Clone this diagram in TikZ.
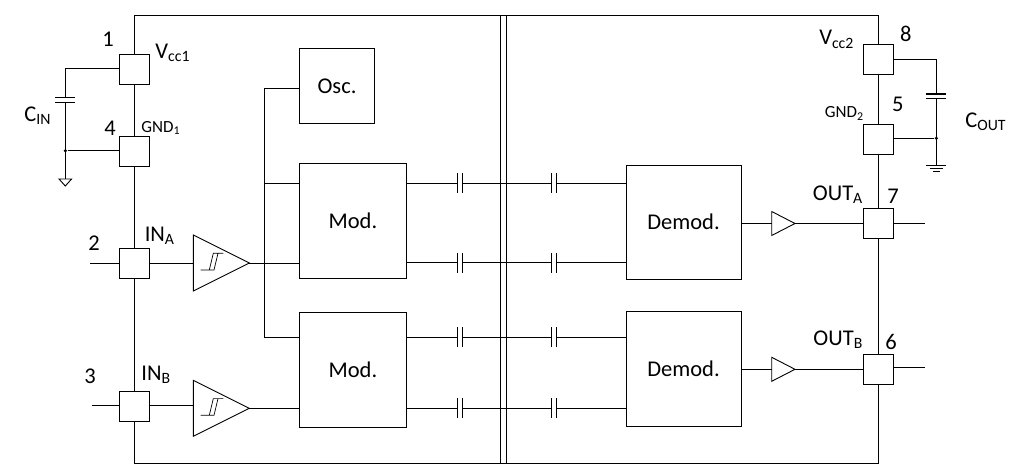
\documentclass[tikz,border=0pt]{standalone}
\usepackage{fontspec}
\setmainfont{Carlito}
\usetikzlibrary{shapes.geometric}
\tikzset{
pin/.style={draw,fill=white,minimum size=30pt,inner sep=0pt,outer sep=0pt},
block/.style={draw,fill=white,inner sep=0pt,outer sep=0pt,font=\fontsize{22.5}{26}\selectfont},
buf/.style={draw,fill=white,shape=isosceles triangle,isosceles triangle stretches=true,inner sep=0pt,outer sep=0pt,anchor=lower side},
txt/.style={inner sep=0pt,font=\fontsize{22.5}{26}\selectfont},
small/.style={inner sep=0pt,font=\fontsize{17}{20}\selectfont},
dot/.style={circle,fill,inner sep=0pt,minimum size=3.5pt},
}
\begin{document}
\begin{tikzpicture}[x=1pt,y=-1pt,line width=0.9pt]
\useasboundingbox (0,0) rectangle (1012,476);

%%%% pins
%%%%
\foreach \n/\x/\y in{
1/134/69,4/134/151,2/134/263,3/134/406,8/878/59,5/878/139,7/878/223,6/878/369%
}{
\node[pin](pin\n) at(\x,\y) {};
}
\coordinate(tl) at(134,15.7);
\coordinate(tr) at(878,15.7);
\coordinate(bl) at(134,463);
\coordinate(br) at(878,463);
\draw (pin1) -- (tl) -- (tr) -- (pin8);
\draw (pin3) -- (bl) -- (br) -- (pin6);
\foreach \u/\v in{
1/4,4/2,2/3,8/5,5/7,7/6%
}{
\draw (pin\u) -- (pin\v);
}

%%%% isolation barrier
%%%%
\foreach \i/\x in{
1/500,2/506.7%
}{
\coordinate(top\i) at(\x,15.7);
\coordinate(bot\i) at(\x,463);
\draw (top\i) -- (bot\i);
}

%%%% stubs
%%%%
\coordinate(in2) at(90,263);
\coordinate(in3) at(91.7,405.7);
\coordinate(out7) at(925,223);
\coordinate(out6) at(925,367.7);
\draw (in2) -- (pin2);
\draw (in3) -- (pin3.west|-in3);
\draw (pin7.east|-out7) -- (out7);
\draw (pin6.east|-out6) -- (out6);

%%%% blocks
%%%%
\node[block,minimum width=74.6pt,minimum height=75pt](osc) at(337,86) {Osc.};
\node[block,minimum width=106.3pt,minimum height=115pt](moda) at(352.9,220.8) {Mod.};
\node[block,minimum width=106.3pt,minimum height=114.6pt](modb) at(352.9,370) {Mod.};
\node[block,minimum width=115pt,minimum height=114.3pt](dema) at(683.5,222.1) {Demod.};
\node[block,minimum width=115pt,minimum height=115pt](demb) at(683.5,369.2) {Demod.};

%%%% input buffers
%%%%
\node[buf,minimum width=56pt,minimum height=56pt](bufa) at(193.3,263) {};
\node[buf,minimum width=56pt,minimum height=56pt](bufb) at(193.3,408.3) {};
\draw (pin2) -- (bufa.lower side);
\draw (pin3.east|-in3) -- (bufb.west|-in3);
\foreach \n in{bufa,bufb}{
\draw[line width=0.7pt] (\n.lower side) ++(7.4,7) -- ++(13.3,0) -- ++(4,-16.7) -- ++(5.3,0) ++(-5.3,0) -- ++(-4.7,0) -- ++(-4,16.7);
}

%%%% output buffers
%%%%
\node[buf,minimum width=24pt,minimum height=23.3pt](bufc) at(771.7,223.5) {};
\node[buf,minimum width=24pt,minimum height=23.3pt](bufd) at(771.7,369.3) {};
\draw (dema.east|-bufc.lower side) -- (bufc.lower side);
\draw (bufc.apex) -- (pin7.west|-bufc.apex);
\draw (demb.east|-bufd.lower side) -- (bufd.lower side);
\draw (bufd.apex) -- (pin6.west|-bufd.apex);

%%%% left side wiring
%%%%
\coordinate(j1) at(264.7,88.3);
\coordinate(j2) at(264.7,337);
\coordinate(j3) at(264.7,183.3);
\draw (osc.west|-j1) -- (j1) -- (j2) -- (modb.west|-j2);
\draw (j3) -- (moda.west|-j3);
\draw (bufa.apex) -- (moda.west|-bufa.apex);
\draw (bufb.apex) -- (modb.west|-bufb.apex);

%%%% coupling capacitors
%%%%
\foreach \n/\y in{
a/183,b/262.7,c/337.3,d/408.3%
}{
\coordinate(w\n) at(406,\y);
\coordinate(e\n) at(626,\y);
\foreach \i/\x in{
1/459.6,2/554.2%
}{
\coordinate(p\n\i) at(\x,\y);
\draw (p\n\i) ++(-2.5,-10) -- ++(0,20) ++(5,0) -- ++(0,-20);
}
\draw (w\n) -- ([xshift=-2.5pt]p\n1);
\draw ([xshift=2.5pt]p\n1) -- ([xshift=-2.5pt]p\n2);
\draw ([xshift=2.5pt]p\n2) -- (e\n);
}

%%%% C in
%%%%
\coordinate(ca) at(65.3,68.7);
\coordinate(cb) at(65.3,97.3);
\coordinate(cc) at(65.3,102.7);
\node[dot](da) at(65.3,150.7) {};
\coordinate(ga) at(65.3,179);
\draw (pin1.west|-ca) -- (ca) -- (cb);
\draw (cc) -- (ga);
\draw (pin4.west|-da) -- (da);
\draw[line width=1.2pt] (cb) ++(-10,0) -- ++(20,0);
\draw[line width=1.2pt] (cc) ++(-10,0) -- ++(20,0);
\draw (ga) ++(-6.3,0) -- ++(12.6,0) -- ++(-6.3,7) -- cycle;

%%%% C out
%%%%
\coordinate(cd) at(936.3,59.3);
\coordinate(ce) at(936.3,94);
\coordinate(cf) at(936.3,98.3);
\node[dot](db) at(936.3,138.3) {};
\coordinate(gb) at(936.3,165.7);
\draw (pin8.east|-cd) -- (cd) -- (ce);
\draw (cf) -- (gb);
\draw (pin5.east|-db) -- (db);
\draw[line width=1.2pt] (ce) ++(-10,0) -- ++(20,0);
\draw[line width=1.2pt] (cf) ++(-10,0) -- ++(20,0);
\draw (gb) ++(-10,0) -- ++(20,0);
\draw (gb) ++(-6.7,2.8) -- ++(13.4,0);
\draw (gb) ++(-3.3,5.6) -- ++(6.6,0);

%%%% labels
%%%%
\foreach \n/\x/\y in{
1/108/46.7,4/110/136,2/94/250,3/90/383.3,8/905.7/41.7,5/897.7/111.7,7/893/204,6/891/349%
}{
\node[txt,anchor=base](num\n) at(\x,\y) {\n};
}
\node[txt,anchor=base west](vcca) at(155,58.3) {V\textsubscript{cc1}};
\node[small,anchor=base west](gnda) at(141,132.3) {GND\textsubscript{1}};
\node[txt,anchor=base west](cin) at(24,121.7) {C\textsubscript{IN}};
\node[txt,anchor=base west](ina) at(144.3,241.7) {IN\textsubscript{A}};
\node[txt,anchor=base west](inb) at(141,380) {IN\textsubscript{B}};
\node[txt,anchor=base east](vccb) at(854.3,45) {V\textsubscript{cc2}};
\node[small,anchor=base east](gndb) at(864,117.7) {GND\textsubscript{2}};
\node[txt,anchor=base west](cout) at(965,127.7) {C\textsubscript{OUT}};
\node[txt,anchor=base east](outa) at(863.3,200.7) {OUT\textsubscript{A}};
\node[txt,anchor=base east](outb) at(863.3,345) {OUT\textsubscript{B}};

\end{tikzpicture}
\end{document}
